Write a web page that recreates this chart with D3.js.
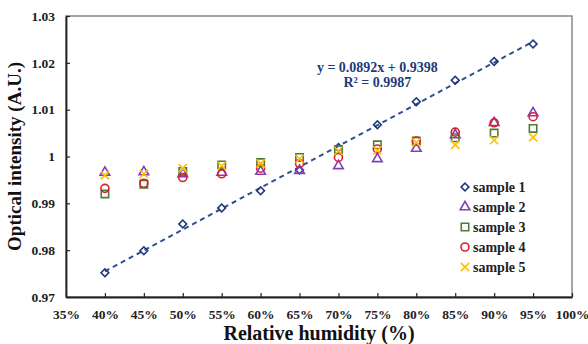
<!DOCTYPE html>
<html>
<head>
<meta charset="utf-8">
<script src="https://cdn.jsdelivr.net/npm/d3@7"></script>
<style>
  body { margin: 0; background: #fff; }
  svg { display: block; font-family: "Liberation Serif", "Times New Roman", serif; font-weight: bold; }
</style>
</head>
<body>
<svg id="chart" width="588" height="344"></svg>
<script>
    // data
    var humidity = [0.40, 0.45, 0.50, 0.55, 0.60, 0.65, 0.70, 0.75, 0.80, 0.85, 0.90, 0.95];
    var sample1 = [0.9752, 0.9799, 0.9856, 0.9890, 0.9927, 0.9971, 1.0019, 1.0068, 1.0117, 1.0163, 1.0203, 1.0240];
    var sample2 = [0.9966, 0.9967, 0.9963, 0.9966, 0.9968, 0.9970, 0.9980, 0.9995, 1.0017, 1.0046, 1.0072, 1.0093];
    var sample3 = [0.9920, 0.9941, 0.9968, 0.9982, 0.9987, 0.9998, 1.0015, 1.0025, 1.0033, 1.0040, 1.0050, 1.0060];
    var sample4 = [0.9932, 0.9943, 0.9955, 0.9963, 0.9975, 0.9985, 0.9998, 1.0016, 1.0033, 1.0052, 1.0072, 1.0085];
    var sample5 = [0.9960, 0.9963, 0.9975, 0.9980, 0.9985, 0.9995, 1.0012, 1.0013, 1.0030, 1.0025, 1.0035, 1.0041];
    var seriesNames = ["sample 1", "sample 2", "sample 3", "sample 4", "sample 5"];
    var xTicks = [0.35, 0.40, 0.45, 0.50, 0.55, 0.60, 0.65, 0.70, 0.75, 0.80, 0.85, 0.90, 0.95, 1.00];
    var yTicks = [0.97, 0.98, 0.99, 1.00, 1.01, 1.02, 1.03];
    var yTickLabels = ["0.97", "0.98", "0.99", "1", "1.01", "1.02", "1.03"];
    var trendSlope = 0.0892, trendIntercept = 0.9398;
    var trendText = ["y = 0.0892x + 0.9398", "R\u00b2 = 0.9987"];

    var svg = d3.select("#chart");
    var margin = {top: 16, right: 16, bottom: 47, left: 66},
        width = 588 - margin.left - margin.right,
        height = 344 - margin.top - margin.bottom;

    var x = d3.scaleLinear().domain([0.35, 1.0]).range([0, width]);
    var y = d3.scaleLinear().domain([0.97, 1.03]).range([height, 0]);

    var g = svg.append("g").attr("transform", "translate(" + margin.left + "," + margin.top + ")");

    // plot border (top / right are grey)
    g.append("rect")
        .attr("width", width).attr("height", height)
        .attr("fill", "none").attr("stroke", "#888").attr("stroke-width", 1.5);

    var xAxis = g.append("g")
        .attr("transform", "translate(0," + height + ")")
        .call(d3.axisBottom(x).tickValues(xTicks).tickSizeInner(-4).tickSizeOuter(0)
            .tickPadding(12).tickFormat(d3.format(".0%")));
    var yAxis = g.append("g")
        .call(d3.axisLeft(y).tickValues(yTicks).tickSizeInner(-4).tickSizeOuter(0)
            .tickPadding(11).tickFormat((d, i) => yTickLabels[i]));

    [xAxis, yAxis].forEach(a => {
        a.select(".domain").attr("stroke", "#222").attr("stroke-width", 1.8);
        a.selectAll(".tick line").attr("stroke", "#222").attr("stroke-width", 1.2);
        a.selectAll("text").attr("font-size", 13.5).attr("font-family", "Liberation Serif")
            .attr("font-weight", "bold").attr("fill", "#222");
    });

    // trendline for sample 1
    var trendX = [humidity[0], humidity[humidity.length - 1]];
    g.append("path")
        .datum(trendX)
        .attr("fill", "none")
        .attr("stroke", "#2f4f8f")
        .attr("stroke-width", 2)
        .attr("stroke-dasharray", "5,4")
        .attr("d", d3.line().x(d => x(d)).y(d => y(trendSlope * d + trendIntercept)));

    var eq = g.append("text")
        .attr("x", x(0.75)).attr("y", y(1.018))
        .attr("text-anchor", "middle")
        .attr("font-size", 14)
        .attr("fill", "#1f3a7a");
    eq.selectAll("tspan").data(trendText).enter().append("tspan")
        .attr("x", x(0.75)).attr("dy", (d, i) => i ? 15 : 0)
        .text(d => d);

    // markers
    var allSeries = [sample1, sample2, sample3, sample4, sample5];
    var colors = ["#1f3a7a", "#8040b8", "#4f7a3a", "#d8202c", "#ffc000"];
    var shapes = [d3.symbolSquare, d3.symbolTriangle, d3.symbolSquare, d3.symbolCircle, d3.symbolTimes];
    var sizes = [30, 40, 55, 50, 46];
    var rotates = [45, 0, 0, 0, 0];

    allSeries.forEach((vals, s) => {
        var sym = d3.symbol().type(shapes[s]).size(sizes[s]);
        g.append("g").selectAll("path")
            .data(vals)
            .enter().append("path")
            .attr("transform", (d, i) => "translate(" + x(humidity[i]) + "," + y(d) + ") rotate(" + rotates[s] + ")")
            .attr("d", sym)
            .attr("fill", "none")
            .attr("stroke", colors[s])
            .attr("stroke-width", 1.6);
    });

    // legend
    var legend = g.append("g").attr("transform", "translate(" + (465 - margin.left) + "," + (187 - margin.top) + ")");
    seriesNames.forEach((name, s) => {
        var row = legend.append("g").attr("transform", "translate(0," + s * 20 + ")");
        row.append("path")
            .attr("transform", "rotate(" + rotates[s] + ")")
            .attr("d", d3.symbol().type(shapes[s]).size(sizes[s]))
            .attr("fill", "none").attr("stroke", colors[s]).attr("stroke-width", 1.6);
        row.append("text")
            .attr("x", 8).attr("y", 5)
            .attr("font-size", 14).attr("fill", "#222")
            .text(name);
    });

    // axis titles
    svg.append("text")
        .attr("x", margin.left + x(0.675)).attr("y", 340)
        .attr("text-anchor", "middle")
        .attr("font-size", 20).attr("fill", "#111")
        .text("Relative humidity (%)");
    svg.append("text")
        .attr("transform", "translate(21," + (margin.top + height / 2) + ") rotate(-90)")
        .attr("text-anchor", "middle")
        .attr("font-size", 19).attr("fill", "#111")
        .text("Optical intensity (A.U.)");
</script>
</body>
</html>
